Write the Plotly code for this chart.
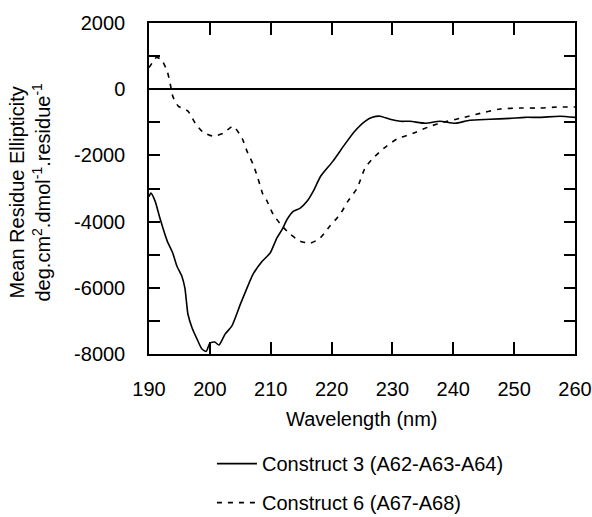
import plotly.graph_objects as go

# Construct 3 (solid)
wl_c3 = [190.0, 190.3, 191.0, 191.8, 193.0, 193.9, 194.6, 195.4, 195.9, 196.4, 197.1, 197.9, 198.7, 199.4,
         200.0, 200.8, 201.5, 202.5, 203.6, 205.0, 206.1, 207.1, 208.6, 209.9, 211.0, 211.9, 212.7, 213.7,
         214.8, 216.0, 217.0, 218.2, 220.2, 222.2, 223.8, 225.5, 226.7, 228.0, 229.6, 231.3, 232.9, 235.4,
         237.8, 240.3, 242.7, 246.0, 249.3, 251.8, 254.2, 257.5, 260.0]
mre_c3 = [-3250, -3140, -3380, -3900, -4590, -4950, -5350, -5650, -6010, -6800, -7220, -7550, -7850, -7920,
          -7670, -7640, -7730, -7400, -7160, -6500, -6010, -5590, -5200, -4950, -4500, -4230, -3930, -3690,
          -3600, -3380, -3080, -2630, -2180, -1660, -1270, -970, -850, -815, -910, -970, -970, -1030,
          -970, -1030, -940, -910, -880, -850, -850, -815, -850]

# Construct 6 (dashed)
wl_c6 = [190.0, 190.5, 191.2, 192.0, 193.0, 193.5, 193.9, 194.8, 196.4, 197.6, 198.9, 200.5, 202.2, 203.8,
         205.3, 206.1, 207.1, 207.9, 208.7, 209.4, 210.4, 211.9, 213.2, 214.8, 216.5, 218.1, 219.7, 221.4,
         222.7, 224.2, 225.5, 227.0, 228.5, 230.7, 233.4, 236.2, 238.3, 241.1, 244.4, 247.7, 251.0, 254.2,
         257.0, 260.0]
mre_c6 = [650, 790, 960, 900, 540, 150, -210, -510, -660, -1030, -1300, -1420, -1330, -1120,
          -1480, -1870, -2270, -2690, -3170, -3380, -3780, -4140, -4380, -4590, -4650, -4500, -4140, -3780,
          -3380, -2990, -2380, -2050, -1800, -1510, -1330, -1120, -1000, -880, -730, -600, -570, -570,
          -540, -540]

x_ticks = [190, 200, 210, 220, 230, 240, 250, 260]
y_ticks = [2000, 0, -2000, -4000, -6000, -8000]
y_tick_text = ["2000", "0", "-2000", "-4000", "-6000", "-8000"]

name_c3 = "Construct 3 (A62-A63-A64)"
name_c6 = "Construct 6 (A67-A68)"
x_title = "Wavelength (nm)"
y_title = "Mean Residue Ellipticity<br>deg.cm<sup>2</sup>.dmol<sup>-1</sup>.residue<sup>-1</sup>"

FONT = "Liberation Sans, Arial, sans-serif"
FS = 20

fig = go.Figure()
fig.add_trace(go.Scatter(x=wl_c3, y=mre_c3, mode="lines", name=name_c3, legendgroup="a",
                         line=dict(color="black", width=1.6, shape="spline", smoothing=0.6)))
fig.add_trace(go.Scatter(x=wl_c6, y=mre_c6, mode="lines", name=name_c6, legendgroup="b",
                         line=dict(color="black", width=1.6, dash="5px,6px", shape="spline", smoothing=0.6)))

fig.update_layout(
    width=592, height=517,
    margin=dict(l=149, r=17, t=23, b=163, autoexpand=False),
    paper_bgcolor="white", plot_bgcolor="white",
    font=dict(family=FONT, size=FS, color="black"),
    showlegend=True,
    legend=dict(xref="container", yref="container", x=0.358, y=0.141, xanchor="left", yanchor="top",
                traceorder="grouped", tracegroupgap=10, itemwidth=40,
                bgcolor="rgba(0,0,0,0)", font=dict(size=FS)),
    xaxis=dict(range=[190, 260], tickvals=x_ticks, ticks="inside", ticklen=12, tickwidth=1.5,
               tickcolor="black", showline=True, linecolor="black", linewidth=1.5, mirror="allticks",
               showgrid=False, zeroline=False, ticklabelstandoff=16, automargin=False),
    yaxis=dict(range=[-8000, 2000], tickvals=y_ticks, ticktext=y_tick_text, ticks="inside", ticklen=11,
               tickwidth=1.5, tickcolor="black", showline=True, linecolor="black", linewidth=1.5,
               mirror="allticks", showgrid=False, zeroline=True, zerolinecolor="black", zerolinewidth=1.5,
               ticklabelstandoff=18, automargin=False,
               minor=dict(dtick=1000, ticks="inside", ticklen=11, tickwidth=1.5, tickcolor="black")),
    annotations=[
        dict(text=x_title, xref="paper", yref="paper", x=0.5, y=-0.196, xanchor="center", yanchor="middle",
             showarrow=False, font=dict(size=FS)),
        dict(text=y_title, xref="paper", yref="paper", x=-0.28, y=0.49, xanchor="center", yanchor="middle",
             textangle=-90, showarrow=False, font=dict(size=FS)),
    ],
)

fig.write_html("out.html")
